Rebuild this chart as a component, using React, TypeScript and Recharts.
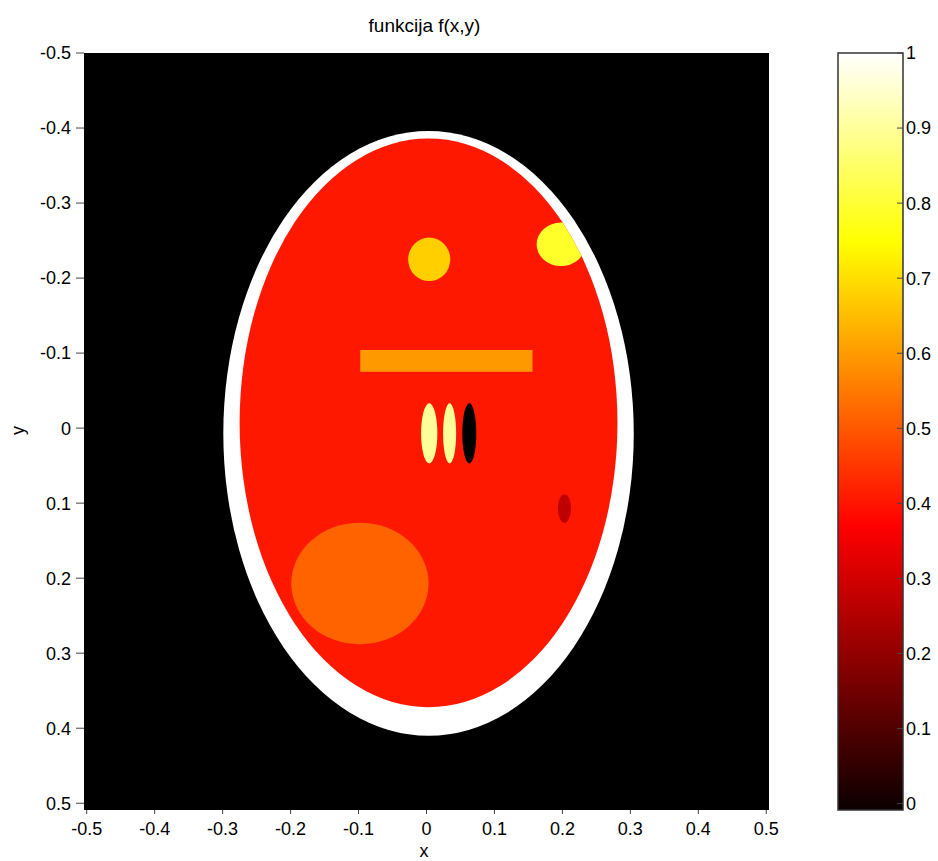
import {
  ComposedChart,
  ReferenceArea,
  Scatter,
  XAxis,
  YAxis,
} from "recharts";

// axis ticks
const xTicks = [-0.5, -0.4, -0.3, -0.2, -0.1, 0, 0.1, 0.2, 0.3, 0.4, 0.5];
const yTicks = [-0.5, -0.4, -0.3, -0.2, -0.1, 0, 0.1, 0.2, 0.3, 0.4, 0.5];
const cbTicks = [0, 0.1, 0.2, 0.3, 0.4, 0.5, 0.6, 0.7, 0.8, 0.9, 1];

// image extent (pixel edges of the phantom image)
const xDomain = [-0.504, 0.504];
const yDomain = [-0.5, 0.509];
const cbDomain = [-0.0085, 1];

// ellipses of the phantom, in drawing order (centre, semi-axes, intensity)
const ellNames = ["outer", "inner", "spotA", "spotB", "lensA", "lensB", "lensC", "dot", "blob"];
const ellX = [0.003, 0.003, 0.004, 0.198, 0.004, 0.034, 0.063, 0.203, -0.098];
const ellY = [0.007, -0.007, -0.225, -0.245, 0.007, 0.007, 0.007, 0.107, 0.207];
const ellRX = [0.302, 0.278, 0.031, 0.036, 0.012, 0.0096, 0.0103, 0.0096, 0.101];
const ellRY = [0.403, 0.379, 0.029, 0.029, 0.04, 0.04, 0.04, 0.019, 0.081];
const ellValue = [1, 0.41, 0.68, 0.79, 0.9, 0.9, 0, 0.28, 0.52];

// rectangular bar
const barX = [-0.0975, 0.156];
const barY = [-0.104, -0.075];
const barValue = 0.6;

const font = "'Liberation Sans', Arial, sans-serif";

function hot(v: number) {
  const c = (t: number) => Math.round(Math.min(1, Math.max(0, t)) * 255);
  return `rgb(${c(v / 0.375)},${c((v - 0.375) / 0.375)},${c((v - 0.75) / 0.25)})`;
}

const centers = ellNames.map((n, i) => ({ name: n, x: ellX[i], y: ellY[i] }));

function ellipseShape(i: number) {
  return (p: any) => {
    const cx = p.x + p.width / 2;
    const cy = p.y + p.height / 2;
    const name = ellNames[i];
    return (
      <g>
        {name === "inner" && (
          <defs>
            <clipPath id="innerClip">
              <ellipse cx={cx} cy={cy} rx={p.width / 2} ry={p.height / 2} />
            </clipPath>
          </defs>
        )}
        <ellipse
          cx={cx}
          cy={cy}
          rx={p.width / 2}
          ry={p.height / 2}
          fill={hot(ellValue[i])}
          clipPath={name === "spotB" ? "url(#innerClip)" : undefined}
        />
      </g>
    );
  };
}

const tickStyle = { fill: "#000", fontSize: 18, fontFamily: font };

function MainChart() {
  return (
    <ComposedChart
      width={938}
      height={861}
      data={centers}
      margin={{ top: 45, right: 161, bottom: 21, left: 24 }}
    >
      <XAxis
        xAxisId="b"
        type="number"
        dataKey="x"
        domain={xDomain}
        allowDataOverflow
        ticks={xTicks}
        interval={0}
        height={30}
        axisLine={false}
        tickSize={4}
        tickMargin={8}
        tickLine={{ stroke: "#444" }}
        tick={tickStyle}
      />
      <XAxis
        xAxisId="t"
        orientation="top"
        type="number"
        domain={xDomain}
        allowDataOverflow
        ticks={xTicks}
        interval={0}
        height={8}
        axisLine={false}
        tickSize={8}
        tickLine={{ stroke: "#444" }}
        tick={false}
      />
      <YAxis
        yAxisId="l"
        type="number"
        dataKey="y"
        domain={yDomain}
        allowDataOverflow
        reversed
        ticks={yTicks}
        interval={0}
        width={60}
        axisLine={false}
        tickSize={8}
        tickMargin={5}
        tickLine={{ stroke: "#444" }}
        tick={tickStyle}
      />
      <YAxis
        yAxisId="r"
        orientation="right"
        type="number"
        domain={yDomain}
        allowDataOverflow
        reversed
        ticks={yTicks}
        interval={0}
        width={8}
        axisLine={false}
        tickSize={8}
        tickLine={{ stroke: "#444" }}
        tick={false}
      />
      <ReferenceArea
        xAxisId="b"
        yAxisId="l"
        x1={xDomain[0]}
        x2={xDomain[1]}
        y1={yDomain[0]}
        y2={yDomain[1]}
        fill="#000"
        fillOpacity={1}
        stroke="none"
        ifOverflow="visible"
      />
      {ellNames.slice(0, 3).map((n, i) => (
        <ReferenceArea
          key={n}
          xAxisId="b"
          yAxisId="l"
          x1={ellX[i] - ellRX[i]}
          x2={ellX[i] + ellRX[i]}
          y1={ellY[i] - ellRY[i]}
          y2={ellY[i] + ellRY[i]}
          ifOverflow="visible"
          shape={ellipseShape(i)}
        />
      ))}
      <ReferenceArea
        xAxisId="b"
        yAxisId="l"
        x1={barX[0]}
        x2={barX[1]}
        y1={barY[0]}
        y2={barY[1]}
        fill={hot(barValue)}
        fillOpacity={1}
        stroke="none"
        ifOverflow="visible"
      />
      {ellNames.slice(3).map((n, k) => {
        const i = k + 3;
        return (
          <ReferenceArea
            key={n}
            xAxisId="b"
            yAxisId="l"
            x1={ellX[i] - ellRX[i]}
            x2={ellX[i] + ellRX[i]}
            y1={ellY[i] - ellRY[i]}
            y2={ellY[i] + ellRY[i]}
            ifOverflow="visible"
            shape={ellipseShape(i)}
          />
        );
      })}
      <Scatter
        xAxisId="b"
        yAxisId="l"
        dataKey="y"
        isAnimationActive={false}
        shape={() => <g />}
      />
    </ComposedChart>
  );
}

function ColorBar() {
  return (
    <ComposedChart
      width={108}
      height={861}
      data={[{ x: 0.5, y: 0.5 }]}
      margin={{ top: 53, right: 5, bottom: 51, left: 7 }}
    >
      <defs>
        <linearGradient id="hotGrad" x1="0" y1="1" x2="0" y2="0">
          <stop offset="0" stopColor="rgb(11,0,0)" />
          <stop offset="0.375" stopColor="rgb(255,0,0)" />
          <stop offset="0.75" stopColor="rgb(255,255,0)" />
          <stop offset="1" stopColor="rgb(255,255,255)" />
        </linearGradient>
      </defs>
      <XAxis type="number" dataKey="x" domain={[0, 1]} hide />
      <YAxis
        yAxisId="l"
        type="number"
        dataKey="y"
        domain={cbDomain}
        allowDataOverflow
        ticks={cbTicks}
        interval={0}
        width={1}
        axisLine={false}
        tickSize={-6}
        tickLine={{ stroke: "#444" }}
        tick={false}
      />
      <YAxis
        yAxisId="r"
        orientation="right"
        type="number"
        domain={cbDomain}
        allowDataOverflow
        ticks={cbTicks}
        interval={0}
        width={30}
        axisLine={false}
        tickSize={-6}
        tickMargin={9}
        tickLine={{ stroke: "#444" }}
        tick={{ ...tickStyle, textAnchor: "start" }}
      />
      <ReferenceArea
        yAxisId="r"
        x1={0}
        x2={1}
        y1={cbDomain[0]}
        y2={cbDomain[1]}
        fill="url(#hotGrad)"
        fillOpacity={1}
        stroke="#333"
        strokeWidth={1.5}
        ifOverflow="visible"
      />
      <Scatter
        yAxisId="l"
        dataKey="y"
        isAnimationActive={false}
        shape={() => <g />}
      />
    </ComposedChart>
  );
}

export default function App() {
  const label = { position: "absolute" as const, fontFamily: font, fontSize: 18, color: "#000", whiteSpace: "nowrap" as const };
  return (
    <div style={{ position: "absolute", left: 0, top: 0, width: 938, height: 861, background: "#fff" }}>
      <div style={{ position: "absolute", left: 0, top: 0 }}>
        <MainChart />
      </div>
      <div style={{ position: "absolute", left: 830, top: 0 }}>
        <ColorBar />
      </div>
      <div style={{ ...label, fontSize: 19, left: 0, width: 849, top: 15, textAlign: "center" }}>funkcija f(x,y)</div>
      <div style={{ ...label, left: 0, width: 848, top: 841, textAlign: "center" }}>x</div>
      <div
        style={{
          ...label,
          left: -2,
          top: 420,
          width: 40,
          textAlign: "center",
          transform: "rotate(-90deg)",
        }}
      >
        y
      </div>
    </div>
  );
}
